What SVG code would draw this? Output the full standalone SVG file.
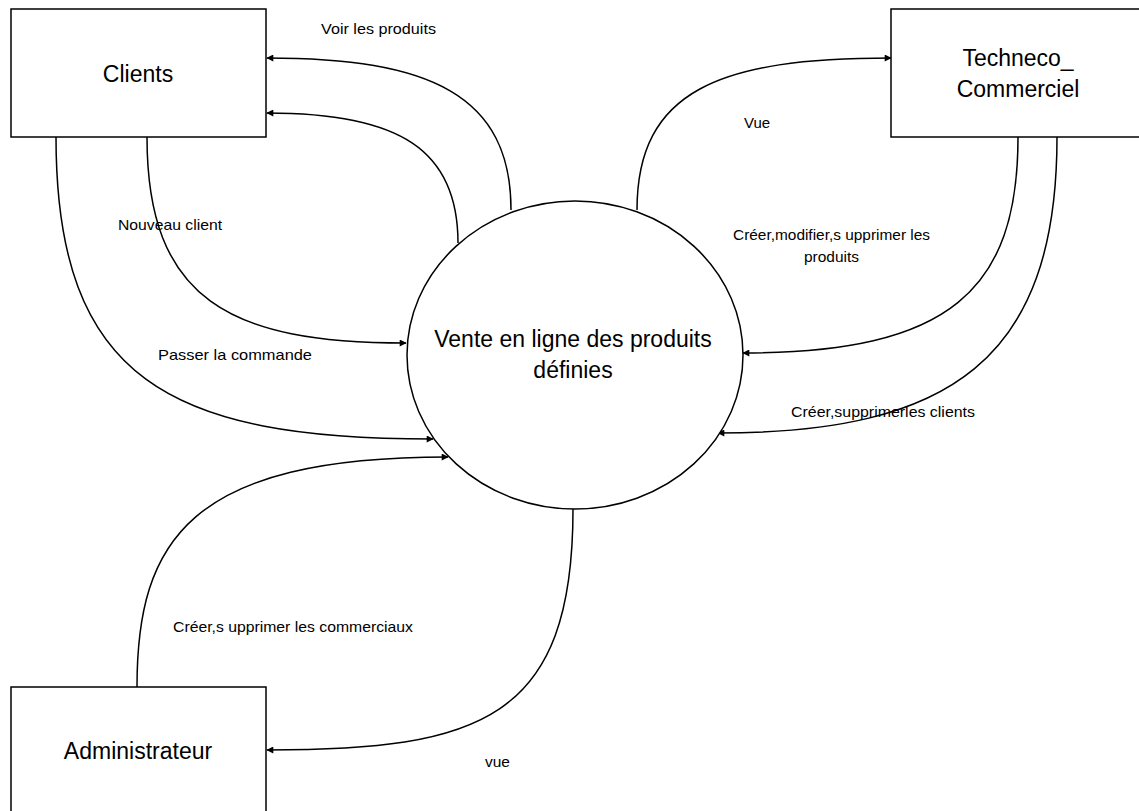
<svg xmlns="http://www.w3.org/2000/svg" width="1139" height="811" viewBox="0 0 1139 811">
  <style>
    .box { fill: #fff; stroke: #000; stroke-width: 1.5; }
    .proc { fill: #fff; stroke: #000; stroke-width: 1.5; }
    .flow { fill: none; stroke: #000; stroke-width: 1.5; marker-end: url(#arrow); }
    .name { font-family: "Liberation Sans", Arial, sans-serif; font-size: 23px; fill: #000; text-anchor: middle; }
    .lbl { font-family: "Liberation Sans", Arial, sans-serif; font-size: 15px; fill: #000; }
  </style>
  <defs>
    <marker id="arrow" viewBox="0 0 10 10" refX="9" refY="5" markerWidth="9" markerHeight="7" markerUnits="userSpaceOnUse" orient="auto">
      <path d="M0,0 L10,5 L0,10 z" fill="#000"/>
    </marker>
  </defs>
  <rect width="1139" height="811" fill="#fff"/>

  <!-- data flows -->
  <g id="connectors">
    <path class="flow" d="M511,210 C511,95 430,58 267,58"/>
    <path class="flow" d="M458,243 C458,150 400,113 267,113"/>
    <path class="flow" d="M637,210 C637,90 720,58 891,58"/>
    <path class="flow" d="M147,137 C147,300 230,343 406,343"/>
    <path class="flow" d="M56,137 C56,380 170,439 433,439"/>
    <path class="flow" d="M137,687 C137,540 190,457 448,457"/>
    <path class="flow" d="M1018,137 C1018,290 950,353 743,353"/>
    <path class="flow" d="M1057,137 C1057,360 950,433 718,433"/>
    <path class="flow" d="M573,509 C573,720 480,750 267,750"/>
  </g>

  <g id="clients">
    <rect class="box" x="11" y="9" width="255" height="128"/>
    <text class="name" x="138" y="82">Clients</text>
  </g>

  <g id="techneco-commerciel">
    <rect class="box" x="891" y="9" width="255" height="128"/>
    <text class="name" x="1018" y="66">Techneco_</text>
    <text class="name" x="1018" y="97">Commerciel</text>
  </g>

  <g id="administrateur">
    <rect class="box" x="11" y="687" width="255" height="130"/>
    <text class="name" x="138" y="759">Administrateur</text>
  </g>

  <g id="vente-en-ligne">
    <ellipse class="proc" cx="575" cy="355" rx="168" ry="154"/>
    <text class="name" x="573" y="347">Vente en ligne des produits</text>
    <text class="name" x="573" y="378">définies</text>
  </g>

  <!-- flow labels -->
  <g id="labels">
    <text class="lbl" x="321" y="34" textLength="115" lengthAdjust="spacingAndGlyphs">Voir les  produits</text>
    <text class="lbl" x="744" y="128">Vue</text>
    <text class="lbl" x="118" y="230" textLength="104" lengthAdjust="spacingAndGlyphs">Nouveau client</text>
    <text class="lbl" x="733" y="240" textLength="197" lengthAdjust="spacingAndGlyphs">Créer,modifier,s upprimer les</text>
    <text class="lbl" x="804" y="262" textLength="55" lengthAdjust="spacingAndGlyphs">produits</text>
    <text class="lbl" x="158" y="360" textLength="154" lengthAdjust="spacingAndGlyphs">Passer la commande</text>
    <text class="lbl" x="791" y="417" textLength="184" lengthAdjust="spacingAndGlyphs">Créer,supprimerles clients</text>
    <text class="lbl" x="173" y="632" textLength="240" lengthAdjust="spacingAndGlyphs">Créer,s upprimer les commerciaux</text>
    <text class="lbl" x="485" y="767" textLength="25" lengthAdjust="spacingAndGlyphs">vue</text>
  </g>
</svg>
